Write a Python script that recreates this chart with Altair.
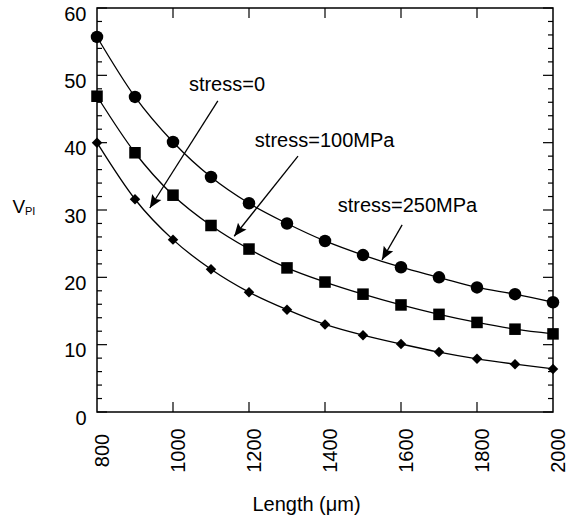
import math
import altair as alt
import pandas as pd

# ---------------- data ----------------
lengths = [800, 900, 1000, 1100, 1200, 1300, 1400, 1500, 1600, 1700, 1800, 1900, 2000]
v_250 = [55.7, 46.8, 40.1, 34.9, 31.0, 28.0, 25.4, 23.3, 21.5, 20.0, 18.5, 17.5, 16.3]
v_100 = [46.9, 38.5, 32.2, 27.7, 24.2, 21.4, 19.3, 17.5, 15.9, 14.5, 13.3, 12.3, 11.6]
v_0 = [40.0, 31.6, 25.6, 21.2, 17.8, 15.2, 13.0, 11.4, 10.1, 8.9, 7.9, 7.1, 6.4]
series_names = ["stress=250MPa", "stress=100MPa", "stress=0"]

x_tick_labels = [800, 1000, 1200, 1400, 1600, 1800, 2000]
x_inner_ticks = [1000, 1200, 1400, 1600, 1800]
y_tick_labels = [0, 10, 20, 30, 40, 50, 60]
y_minor_ticks = [2, 4, 6, 8, 12, 14, 16, 18, 22, 24, 26, 28, 32, 34, 36, 38,
                 42, 44, 46, 48, 52, 54, 56, 58]

ann_text = ["stress=0", "stress=100MPa", "stress=250MPa"]
ann_x = [1142, 1399, 1617]
ann_y = [47.7, 39.3, 29.7]
arrow_x0 = [1118, 1329, 1603]
arrow_y0 = [46.2, 38.0, 27.8]
arrow_x1 = [939, 1161, 1550]
arrow_y1 = [30.3, 26.1, 22.6]

# ---------------- styles ----------------
W, H = 456, 404
X_DOM = [800, 2000]
Y_DOM = [0, 60]
FONT = "Liberation Sans"
series_shapes = ["circle", "square", "diamond"]
series_sizes = [156, 110, 105]
ARROW_PATH = "M0,0L-0.42,1L0,0.82L0.42,1Z"

# ---------------- tables ----------------
rows = []
for name, vals in zip(series_names, [v_250, v_100, v_0]):
    for L, v in zip(lengths, vals):
        rows.append({"length": L, "v": v, "series": name})
df = pd.DataFrame(rows)

angles = []
for xa, ya, xb, yb in zip(arrow_x0, arrow_y0, arrow_x1, arrow_y1):
    dx = (xb - xa) * W / (X_DOM[1] - X_DOM[0])
    dy = -(yb - ya) * H / (Y_DOM[1] - Y_DOM[0])
    angles.append(math.degrees(math.atan2(dx, -dy)) % 360)
arrows = pd.DataFrame({"x0": arrow_x0, "y0": arrow_y0, "x1": arrow_x1,
                       "y1": arrow_y1, "ang": angles})
anns = pd.DataFrame({"t": ann_text, "x": ann_x, "y": ann_y})

xs = alt.Scale(domain=X_DOM, nice=False, zero=False)
ys = alt.Scale(domain=Y_DOM, nice=False, zero=True)

x_axis = alt.Axis(values=x_tick_labels, format="d", labelAngle=270, labelAlign="center",
                  labelBaseline="middle", labelPadding=38, labelOffset=5,
                  tickSize=0, titleX=209, titleY=98,
                  titleAlign="center", titleBaseline="alphabetic")
y_axis = alt.Axis(values=y_tick_labels, format="d", labelPadding=11, labelOffset=6,
                  labelBaseline="middle", tickSize=0,
                  titleAngle=0, titleX=-85, titleY=204, titleAlign="left",
                  titleBaseline="alphabetic", titleFontSize=19)
X_TITLE = "Length (μm)"
Y_TITLE = "V"


def X(field):
    return alt.X(field, scale=xs, axis=x_axis, title=X_TITLE)


def Y(field):
    return alt.Y(field, scale=ys, axis=y_axis, title=Y_TITLE)


base = alt.Chart(df)

lines = base.mark_line(interpolate="monotone", color="black", strokeWidth=1.3).encode(
    x=X("length:Q"), y=Y("v:Q"), detail="series:N")

points = base.mark_point(filled=True, color="black", opacity=1).encode(
    x=X("length:Q"), y=Y("v:Q"),
    shape=alt.Shape("series:N", scale=alt.Scale(domain=series_names, range=series_shapes), legend=None),
    size=alt.Size("series:N", scale=alt.Scale(domain=series_names, range=series_sizes), legend=None),
)

sub = alt.Chart(pd.DataFrame({"t": ["PI"]})).mark_text(
    font=FONT, fontSize=11, align="left", baseline="alphabetic", color="black"
).encode(x=alt.value(-72), y=alt.value(207), text="t:N")

# inward ticks
ymaj = pd.DataFrame({"y": y_tick_labels})
ymin = pd.DataFrame({"y": y_minor_ticks})
xin = pd.DataFrame({"x": x_inner_ticks})
tick_layers = []
for d, lo, hi in [(ymaj, 0, 10), (ymaj, W, W - 10), (ymin, 0, 5), (ymin, W, W - 5)]:
    tick_layers.append(alt.Chart(d).mark_rule(color="black", strokeWidth=1.2).encode(
        y=Y("y:Q"), x=alt.value(lo), x2=alt.value(hi)))
for lo, hi in [(0, 10), (H, H - 10)]:
    tick_layers.append(alt.Chart(xin).mark_rule(color="black", strokeWidth=1.2).encode(
        x=X("x:Q"), y=alt.value(lo), y2=alt.value(hi)))

arrow_lines = alt.Chart(arrows).mark_rule(color="black", strokeWidth=1.3).encode(
    x=X("x0:Q"), y=Y("y0:Q"), x2="x1:Q", y2="y1:Q")
arrow_heads = alt.Chart(arrows).mark_point(
    shape=ARROW_PATH, filled=True, color="black", opacity=1, size=676
).encode(x=X("x1:Q"), y=Y("y1:Q"), angle=alt.Angle("ang:Q", scale=None))

labels = alt.Chart(anns).mark_text(
    font=FONT, fontSize=20, align="center", baseline="alphabetic", color="black"
).encode(x=X("x:Q"), y=Y("y:Q"), text="t:N")

chart = alt.layer(lines, points, *tick_layers, arrow_lines, arrow_heads, labels, sub).properties(
    width=W, height=H,
    autosize=alt.AutoSizeParams(type="none"),
    padding={"left": 97, "top": 8, "right": 14, "bottom": 108},
    background="white",
).configure_view(stroke="black", strokeWidth=1.5).configure_axis(
    domain=False, ticks=False, grid=False,
    labelFont=FONT, labelFontSize=20, labelColor="black",
    titleFont=FONT, titleFontSize=20, titleFontWeight="normal", titleColor="black",
)

chart.save("out.html", embed_options={"renderer": "svg", "actions": False})
